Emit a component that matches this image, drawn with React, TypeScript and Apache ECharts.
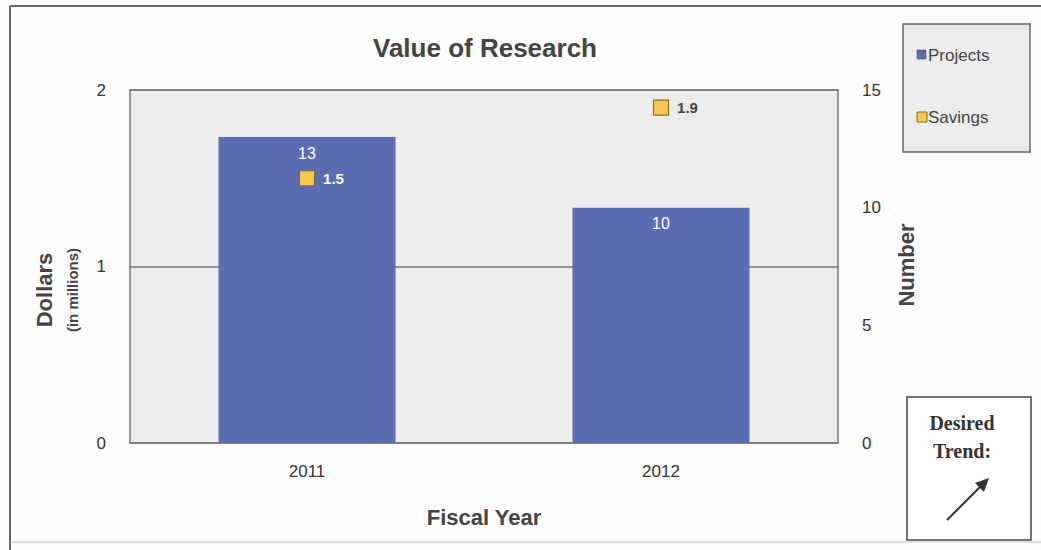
import React, { useEffect, useRef } from "react";
import * as echarts from "echarts";

const categories = ["2011", "2012"];
const projects = [13, 10];
const savings = [1.5, 1.9];
const savingsLabelColors = ["#ffffff", "#444444"];
const leftTicks = [0, 1, 2];
const rightTicks = [0, 5, 10, 15];

export default function App() {
  const ref = useRef<HTMLDivElement>(null);
  useEffect(() => {
    const chart = echarts.init(ref.current!, null, { renderer: "svg" });
    const font = "Liberation Sans, Arial, sans-serif";
    chart.setOption({
      animation: false,
      backgroundColor: "#fdfdfd",
      title: {
        text: "Value of Research",
        left: 480,
        top: 30,
        textAlign: "center",
        textStyle: { fontFamily: font, fontSize: 26, fontWeight: "bold", color: "#444" },
      },
      legend: { show: false },
      grid: {
        left: 130,
        right: 203,
        top: 90,
        bottom: 107,
        show: true,
        backgroundColor: "#ececec",
        borderColor: "#777",
        borderWidth: 1.5,
      },
      xAxis: {
        type: "category",
        data: categories,
        axisTick: { show: false },
        axisLine: { show: false },
        axisLabel: { fontFamily: font, fontSize: 17, color: "#333", margin: 20 },
        name: "Fiscal Year",
        nameLocation: "middle",
        nameGap: 63,
        nameTextStyle: { fontFamily: font, fontSize: 22, fontWeight: "bold", color: "#444" },
      },
      yAxis: [
        {
          type: "value",
          min: leftTicks[0],
          max: leftTicks[leftTicks.length - 1],
          interval: 1,
          axisLine: { show: false },
          axisTick: { show: false },
          splitLine: { lineStyle: { color: "#777", width: 1.5 } },
          axisLabel: { fontFamily: font, fontSize: 17, color: "#333", margin: 24 },
        },
        {
          type: "value",
          min: rightTicks[0],
          max: rightTicks[rightTicks.length - 1],
          interval: 5,
          axisLine: { show: false },
          axisTick: { show: false },
          splitLine: { show: false },
          axisLabel: { fontFamily: font, fontSize: 17, color: "#333", margin: 24 },
        },
      ],
      series: [
        {
          name: "Projects",
          type: "bar",
          yAxisIndex: 1,
          data: projects,
          barWidth: "50%",
          itemStyle: { color: "#5a6db3" },
          label: {
            show: true,
            position: "insideTop",
            distance: 8,
            color: "#fff",
            fontFamily: font,
            fontSize: 16,
          },
          z: 2,
        },
        {
          name: "Savings",
          type: "scatter",
          yAxisIndex: 0,
          data: savings.map((v, i) => ({ value: v, label: { color: savingsLabelColors[i] } })),
          symbol: "rect",
          symbolSize: 15,
          itemStyle: { color: "#f8c94f", borderColor: "#8a6a20", borderWidth: 1.2, opacity: 1 },
          label: {
            show: true,
            position: "right",
            distance: 8,
            fontFamily: font,
            fontSize: 15,
            fontWeight: "bold",
            formatter: (p: any) => String(p.value),
          },
          z: 5,
        },
      ],
      graphic: [
        { type: "line", shape: { x1: 10, y1: 6, x2: 1041, y2: 6 }, style: { stroke: "#666", lineWidth: 2 } },
        { type: "line", shape: { x1: 10, y1: 6, x2: 10, y2: 550 }, style: { stroke: "#666", lineWidth: 2 } },
        { type: "line", shape: { x1: 10, y1: 542, x2: 1041, y2: 542 }, style: { stroke: "#bbb", lineWidth: 1 } },
        {
          type: "text",
          x: 44,
          y: 290,
          rotation: Math.PI / 2,
          style: { text: "Dollars", fontFamily: font, fontSize: 22, fontWeight: "bold", fill: "#444", align: "center", verticalAlign: "middle" },
        },
        {
          type: "text",
          x: 72,
          y: 290,
          rotation: Math.PI / 2,
          style: { text: "(in millions)", fontFamily: font, fontSize: 15, fontWeight: "bold", fill: "#444", align: "center", verticalAlign: "middle" },
        },
        {
          type: "text",
          x: 906,
          y: 265,
          rotation: Math.PI / 2,
          style: { text: "Number", fontFamily: font, fontSize: 22, fontWeight: "bold", fill: "#444", align: "center", verticalAlign: "middle" },
        },
        { type: "rect", shape: { x: 903, y: 24, width: 127, height: 128 }, style: { fill: "#ececec", stroke: "#666", lineWidth: 1.5 } },
        { type: "rect", shape: { x: 917, y: 50, width: 9, height: 9 }, style: { fill: "#5a6db3", stroke: "#444", lineWidth: 0.5 } },
        { type: "text", x: 928, y: 55, style: { text: "Projects", fontFamily: font, fontSize: 17, fill: "#444", verticalAlign: "middle" } },
        { type: "rect", shape: { x: 917, y: 112, width: 10, height: 10 }, style: { fill: "#f8c94f", stroke: "#8a6a20", lineWidth: 1 } },
        { type: "text", x: 928, y: 117, style: { text: "Savings", fontFamily: font, fontSize: 17, fill: "#444", verticalAlign: "middle" } },
        { type: "rect", shape: { x: 907, y: 397, width: 124, height: 143 }, style: { fill: "#fff", stroke: "#444", lineWidth: 1.5 } },
        {
          type: "text",
          x: 962,
          y: 437,
          style: { text: "Desired\nTrend:", fontFamily: "Liberation Serif, serif", fontSize: 20, fontWeight: "bold", fill: "#333", align: "center", verticalAlign: "middle", lineHeight: 28 },
        },
        { type: "line", shape: { x1: 947, y1: 520, x2: 982, y2: 485 }, style: { stroke: "#333", lineWidth: 2 } },
        { type: "polygon", shape: { points: [[989, 478], [975, 483], [984, 492]] }, style: { fill: "#333" } },
      ],
    });
    return () => chart.dispose();
  }, []);
  return <div ref={ref} style={{ width: 1041, height: 550, position: "absolute", left: 0, top: 0 }} />;
}
